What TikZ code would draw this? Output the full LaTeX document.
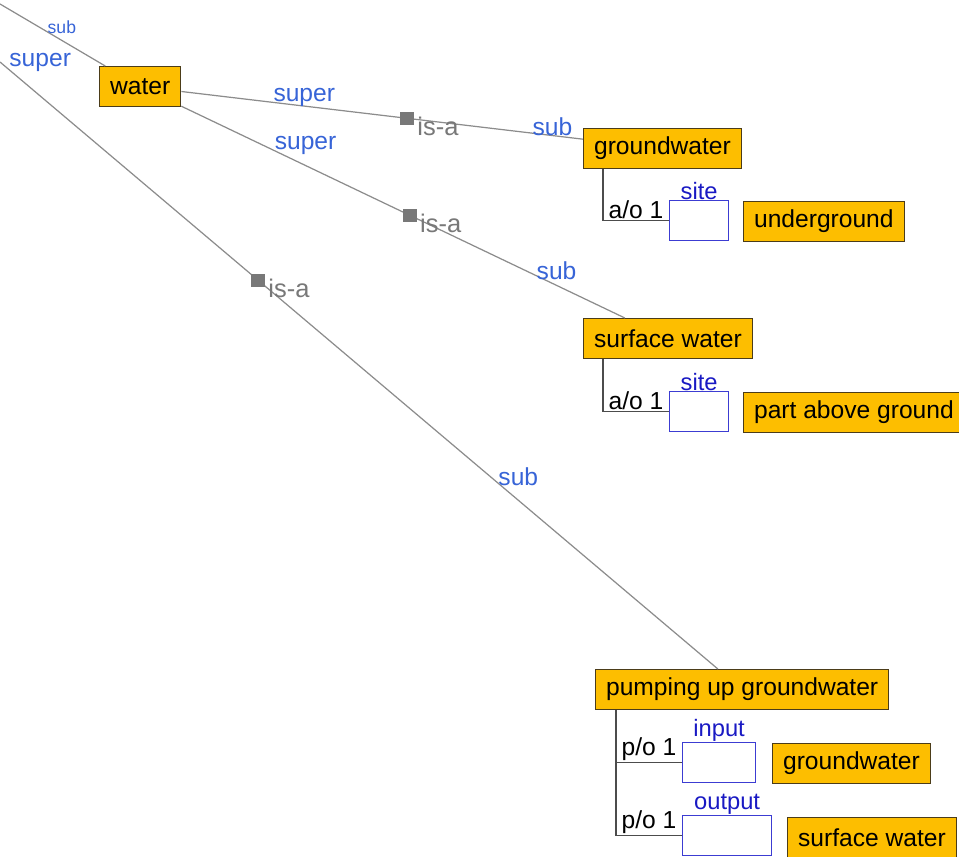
\documentclass[tikz,border=0pt]{standalone}
\usepackage{fontspec}
\setmainfont{Liberation Sans}
\usetikzlibrary{positioning}

\definecolor{conceptfill}{RGB}{253,190,0}
\definecolor{conceptline}{RGB}{75,60,25}
\definecolor{rolecol}{RGB}{55,100,215}
\definecolor{slotcol}{RGB}{60,60,210}
\definecolor{slottext}{RGB}{25,25,195}
\definecolor{linkgray}{RGB}{140,140,140}
\definecolor{isagray}{RGB}{120,120,120}

\tikzset{
  concept/.style={draw=conceptline, fill=conceptfill, line width=0.7pt, anchor=north west,
    minimum height=0.8cm, inner xsep=0.21cm, inner ysep=0pt, font=\fontsize{14}{16}\selectfont},
  slot/.style={draw=slotcol, fill=white, line width=0.7pt, anchor=north west, minimum height=0.8cm},
  slotname/.style={text=slottext, font=\fontsize{13.5}{15}\selectfont, inner sep=0pt},
  link/.style={draw=linkgray, line width=0.7pt},
  role/.style={text=rolecol, font=\fontsize{14}{16}\selectfont, inner sep=1pt},
  isa/.style={fill=isagray, minimum width=0.28cm, minimum height=0.26cm, inner sep=0pt,
    label={[text=isagray, font=\fontsize{14.5}{16}\selectfont, inner sep=1pt, yshift=-0.16cm]right:is-a}},
  partof/.style={draw=black!70, line width=1pt},
  card/.style={font=\fontsize{14}{16}\selectfont, inner sep=0.5pt, above},
}

\begin{document}
\begin{tikzpicture}[x=0.02cm, y=-0.02cm]
\useasboundingbox (0,0) rectangle (959,857);

% concepts
\node[concept] (water) at (99,66) {water};
\node[concept] (ground) at (583,128) {groundwater};
\node[concept] (surface) at (583,318) {surface water};
\node[concept] (pump) at (595,669) {pumping up groundwater};

\node[concept] (under) at (743,201) {underground};
\node[concept] (above) at (743,392) {part above ground};
\node[concept] (pumpin) at (772,743) {groundwater};
\node[concept] (pumpout) at (787,817) {surface water};

% slots
\node[slot, minimum width=1.18cm] (site1) at (669,200) {};
\node[slotname, above=0pt of site1] (site1name) {site};
\node[slot, minimum width=1.18cm] (site2) at (669,391) {};
\node[slotname, above=0pt of site2] (site2name) {site};
\node[slot, minimum width=1.46cm] (input) at (682,742) {};
\node[slotname, above=0pt of input] (inputname) {input};
\node[slot, minimum width=1.78cm] (output) at (682,815) {};
\node[slotname, above=0pt of output] (outputname) {output};

% loose ends going off the page
\coordinate (offwater) at (0,4);
\coordinate (offpump) at (0,62);

% is-a links
\draw[link] (offwater) -- node[role, pos=.588, yshift=0.26cm, font=\fontsize{10}{12}\selectfont] {sub} (water);
\draw[link] (water) -- node[isa, pos=.563] (isa1) {}
  node[role, pos=.306, yshift=0.17cm] {super}
  node[role, pos=.924, yshift=0.17cm] {sub} (ground);
\draw[link] (water) -- node[isa, pos=.516] (isa2) {}
  node[role, pos=.28, yshift=0.4cm] {super}
  node[role, pos=.846, yshift=0.3cm] {sub} (surface);
\draw[link] (offpump) -- node[isa, pos=.36] (isa3) {}
  node[role, pos=.056, yshift=0.68cm] {super}
  node[role, pos=.722, yshift=0.47cm] {sub} (pump);

% slot connectors
\draw[partof] ([xshift=0.4cm]ground.south west) |- node[card, pos=.75] {a/o 1} (site1.west);
\draw[partof] ([xshift=0.4cm]surface.south west) |- node[card, pos=.75] {a/o 1} (site2.west);
\draw[partof] ([xshift=0.42cm]pump.south west) |- node[card, pos=.75] {p/o 1} (input.west);
\draw[partof] ([xshift=0.42cm]pump.south west) |- node[card, pos=.75] {p/o 1} (output.west);
\end{tikzpicture}
\end{document}
